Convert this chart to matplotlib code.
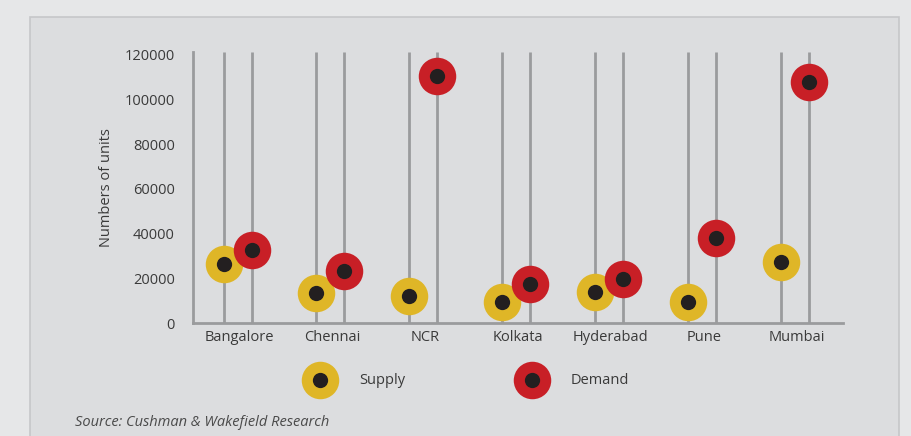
import matplotlib.pyplot as plt
from matplotlib.patches import Rectangle
from matplotlib.lines import Line2D

plt.rcParams['font.family'] = ['Open Sans', 'DejaVu Sans']

# values
cities = ['Bangalore', 'Chennai', 'NCR', 'Kolkata', 'Hyderabad', 'Pune', 'Mumbai']
supply = [26500, 13500, 12000, 9300, 13700, 9300, 27200]
demand = [32800, 23200, 110500, 17400, 19600, 38000, 107800]
yticks = [0, 20000, 40000, 60000, 80000, 100000, 120000]

yellow = '#dfb627'
red = '#c81f26'
dot = '#231f20'
grey = '#9a9b9d'
txt = '#3a3a3a'

fig = plt.figure(figsize=(9.11, 4.36), dpi=100, facecolor='#e6e7e8')
# inner panel
fig.add_artist(Rectangle((30 / 911, -0.05), 869 / 911, 1.05 - 17 / 436,
                         transform=fig.transFigure, facecolor='#dcdddf',
                         edgecolor='#c6c7c9', lw=1.2, zorder=0))

ax = fig.add_axes([193 / 911, 113 / 436, 650 / 911, 271 / 436])
ax.set_facecolor('none')

xs = list(range(len(cities)))
xs_sup = [x - 0.17 for x in xs]
xs_dem = [x + 0.13 for x in xs]
ytop = 121300

ax.vlines(xs_sup, 0, ytop, color=grey, lw=2, zorder=1)
ax.vlines(xs_dem, 0, ytop, color=grey, lw=2, zorder=1)

ax.plot(xs_sup, supply, 'o', ms=27, color=yellow, mec='none', zorder=3)
ax.plot(xs_sup, supply, 'o', ms=11, color=dot, mec='none', zorder=4)
ax.plot(xs_dem, demand, 'o', ms=27, color=red, mec='none', zorder=5)
ax.plot(xs_dem, demand, 'o', ms=11, color=dot, mec='none', zorder=6)

ax.set_xlim(-0.5, len(cities) - 0.5)
ax.set_ylim(0, ytop)
ax.set_yticks(yticks)
ax.set_yticklabels([str(v) for v in yticks], fontsize=10.5, color=txt)
ax.set_xticks(xs)
ax.set_xticklabels(cities, fontsize=10.5, color=txt)
ax.tick_params(length=0, pad=13, axis='y')
ax.tick_params(length=0, pad=5, axis='x')
for s in ['top', 'right']:
    ax.spines[s].set_visible(False)
for s in ['left', 'bottom']:
    ax.spines[s].set_color(grey)
    ax.spines[s].set_linewidth(2)
ax.set_ylabel('Numbers of units', fontsize=10.5, color=txt, labelpad=8)

# legend
for x, c, lab in [(320, yellow, 'Supply'), (532, red, 'Demand')]:
    fx, fy = x / 911, 1 - 380 / 436
    fig.add_artist(Line2D([fx], [fy], marker='o', ms=27, color=c, mec='none',
                          transform=fig.transFigure))
    fig.add_artist(Line2D([fx], [fy], marker='o', ms=11, color=dot, mec='none',
                          transform=fig.transFigure))
    fig.text(fx + 39 / 911, fy, lab, fontsize=10.5, color=txt, va='center')

fig.text(75 / 911, 1 - 422 / 436, 'Source: Cushman & Wakefield Research',
         fontsize=10.5, style='italic', color='#4a4a4a', va='center')

fig.savefig('out.png', dpi=100, facecolor=fig.get_facecolor())
